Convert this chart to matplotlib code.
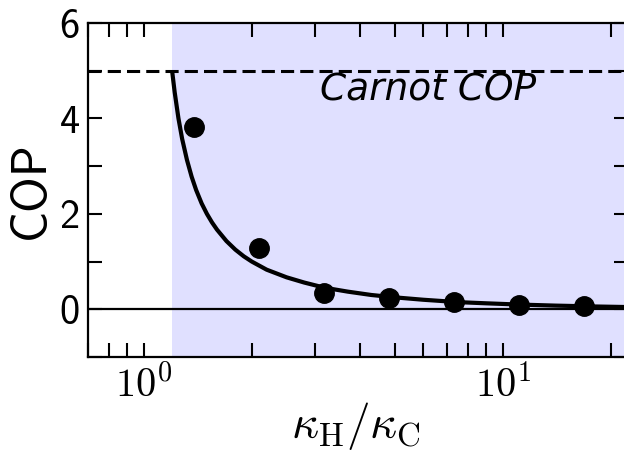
import numpy as np
import matplotlib
matplotlib.use('Agg')
import matplotlib.pyplot as plt
from matplotlib.ticker import MultipleLocator, FixedLocator, NullFormatter, FuncFormatter

plt.rcParams['mathtext.fontset'] = 'cm'

# measured points
kappa_pts = [1.38, 2.10, 3.17, 4.82, 7.30, 11.1, 16.8]
cop_pts = [3.83, 1.29, 0.34, 0.24, 0.15, 0.10, 0.063]

# theory curve
kappa_curve = [1.2, 1.22, 1.25, 1.28, 1.32, 1.36, 1.4, 1.45, 1.5, 1.55, 1.6, 1.7, 1.8,
               1.9, 2.0, 2.2, 2.5, 2.8, 3.2, 3.7, 4.3, 5.0, 6.0, 7.5, 9.0, 11.0, 14.0, 18.0, 23.0]
cop_curve = [5.0, 4.55, 4.0, 3.57, 3.13, 2.78, 2.5, 2.22, 2.0, 1.82, 1.67, 1.43, 1.25,
             1.11, 1.0, 0.83, 0.67, 0.56, 0.45, 0.37, 0.30, 0.25, 0.20, 0.15, 0.125, 0.10, 0.077, 0.059, 0.045]

carnot = 5.0
kappa_min = 1.2

sans = ['cmss10', 'DejaVu Sans']

fig = plt.figure(figsize=(6.24, 4.54), dpi=100)
ax = fig.add_axes([88 / 624, 1 - 357 / 454, 540 / 624, 334 / 454])

ax.axvspan(kappa_min, 30, color='blue', alpha=0.12, lw=0)
ax.axhline(carnot, color='k', lw=2.2, dashes=[4.3, 2])
ax.axhline(0, color='k', lw=1.6)
ax.plot(kappa_curve, cop_curve, color='k', lw=3.0, solid_capstyle='butt')
ax.plot(kappa_pts, cop_pts, 'o', color='k', ms=14)

ax.text(3.1, 4.38, 'Carnot COP', fontsize=27, style='italic', ha='left', va='baseline')

ax.set_xscale('log')
ax.set_xlim(0.7, 22.3)
ax.set_ylim(-1, 6)

ax.yaxis.set_major_locator(MultipleLocator(2))
ax.yaxis.set_minor_locator(MultipleLocator(1))
ax.yaxis.set_major_formatter(FuncFormatter(lambda v, p: '%d' % v))
ax.xaxis.set_major_formatter(FuncFormatter(lambda v, p: r'$10^{%d}$' % round(np.log10(v))))
ax.xaxis.set_minor_locator(FixedLocator([0.7, 0.8, 0.9, 2, 3, 4, 5, 6, 7, 8, 9, 20]))
ax.xaxis.set_minor_formatter(NullFormatter())

ax.tick_params(which='both', direction='in', top=True, right=True, length=10, width=1.5)
ax.tick_params(axis='x', which='major', labelsize=29, pad=6)
ax.tick_params(axis='y', which='major', labelsize=29, pad=6)
for lab in ax.get_yticklabels():
    lab.set_family(sans)
for s in ax.spines.values():
    s.set_linewidth(1.6)

ax.set_ylabel('COP', fontsize=35, family=sans, labelpad=4)
ax.set_xlabel(r'$\kappa_\mathrm{H}/\kappa_\mathrm{C}$', fontsize=34)
ax.xaxis.set_label_coords(0.496, -0.13)

fig.savefig('out.png', dpi=100)
